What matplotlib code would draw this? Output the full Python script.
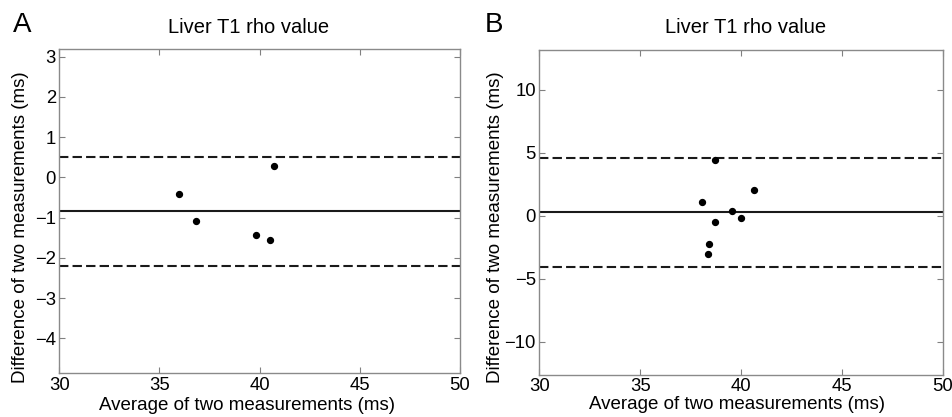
import numpy as np
import matplotlib
matplotlib.use("Agg")
import matplotlib.pyplot as plt

plt.rcParams['font.family'] = ['Liberation Sans', 'DejaVu Sans']

# panel A: liver T1 rho, 5 cases
avg_a = np.array([35.99, 36.84, 39.83, 40.53, 40.70])
diff_a = np.array([-0.41, -1.09, -1.44, -1.56, 0.27])
mean_a = -0.83
loa_a = [0.50, -2.20]

# panel B: 8 cases
avg_b = np.array([38.08, 38.69, 38.69, 38.43, 38.38, 39.57, 39.98, 40.66])
diff_b = np.array([1.14, 4.42, -0.48, -2.22, -3.04, 0.37, -0.16, 2.04])
mean_b = 0.32
loa_b = [4.58, -4.05]

title = 'Liver T1 rho value'
xlab = 'Average of two measurements (ms)'
ylab = 'Difference of two measurements (ms)'

fig = plt.figure(figsize=(9.52, 4.17), dpi=100)
ax1 = fig.add_axes([0.0623, 0.1048, 0.4209, 0.777])
ax2 = fig.add_axes([0.5665, 0.1007, 0.4237, 0.7794])

panels = [
    (ax1, avg_a, diff_a, mean_a, loa_a, (-4.87, 3.18), np.arange(-4, 4, 1),
     (0.473, 12), (0.4676, -0.072), (-0.0744, 0.45)),
    (ax2, avg_b, diff_b, mean_b, loa_b, (-12.62, 13.17), [-10, -5, 0, 5, 10],
     (0.512, 12), (0.4906, -0.066), (-0.0875, 0.454)),
]

for ax, x, y, m, loa, ylim, yt, tpos, xlpos, ylpos in panels:
    ax.axhline(m, color='#1a1a1a', lw=1.5)
    for v in loa:
        ax.axhline(v, color='#1a1a1a', lw=1.5, ls=(0, (4.5, 2)))
    ax.scatter(x, y, s=18, color='black', zorder=3)

    ax.set_xlim(30, 50)
    ax.set_ylim(*ylim)
    ax.set_xticks([30, 35, 40, 45, 50])
    ax.set_yticks(yt)
    ax.set_yticklabels([str(v).replace('-', '\u2212') for v in yt])

    ax.tick_params(direction='in', top=True, right=True, length=4,
                   width=0.8, color='#808080', labelsize=13.3, pad=2.5)
    for s in ax.spines.values():
        s.set_color('#8a8a8a')
        s.set_linewidth(1.0)

    ax.set_title(title, fontsize=14.5, x=tpos[0], pad=tpos[1])
    ax.set_xlabel(xlab, fontsize=13.5)
    ax.set_ylabel(ylab, fontsize=13.5)
    ax.xaxis.set_label_coords(*xlpos)
    ax.yaxis.set_label_coords(*ylpos)

fig.text(0.0137, 0.94, 'A', fontsize=20, ha='left', va='center')
fig.text(0.5095, 0.94, 'B', fontsize=20, ha='left', va='center')

fig.savefig('out.png', dpi=100)
